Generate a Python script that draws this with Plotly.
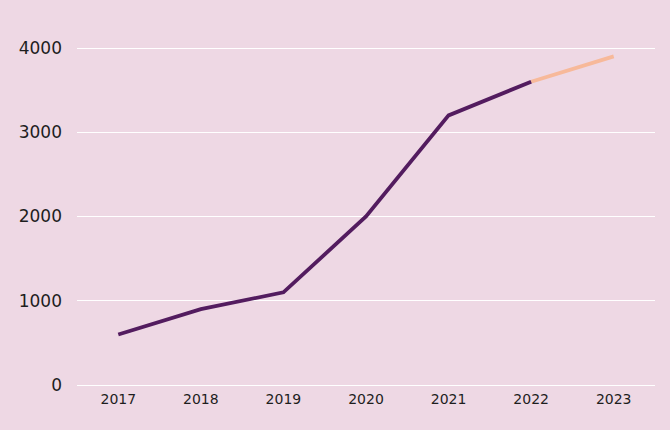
import plotly.graph_objects as go

years = ["2017", "2018", "2019", "2020", "2021", "2022"]
values = [600, 900, 1100, 2000, 3200, 3600]
forecast_years = ["2022", "2023"]
forecast_values = [3600, 3900]
all_years = ["2017", "2018", "2019", "2020", "2021", "2022", "2023"]
y_ticks = [0, 1000, 2000, 3000, 4000]

bg = "#eed8e4"
fig = go.Figure()
fig.add_trace(go.Scatter(x=forecast_years, y=forecast_values, mode="lines",
                         line=dict(color="#f7b99a", width=3.8), hoverinfo="skip"))
fig.add_trace(go.Scatter(x=years, y=values, mode="lines",
                         line=dict(color="#531c5f", width=3.8)))

# y range padded slightly so the 0 and 4000 gridlines are drawn
ypad = 4000 * 2 / 337
fig.update_layout(
    width=670, height=430,
    paper_bgcolor=bg, plot_bgcolor=bg,
    showlegend=False,
    margin=dict(l=77, r=15, t=46, b=43),
    font=dict(family="DejaVu Sans", size=14, color="#1e1e1e"),
    xaxis=dict(type="category", categoryorder="array", categoryarray=all_years,
               range=[-0.5, 6.5], showgrid=False, zeroline=False, showline=False,
               ticks="", tickfont=dict(size=14), ticklabelstandoff=2),
    yaxis=dict(range=[-ypad, 4000 + ypad], tickvals=y_ticks, showgrid=True,
               gridcolor="#ffffff", gridwidth=1.2, zeroline=False, showline=False,
               ticks="", ticklabelstandoff=14, tickfont=dict(size=17)),
)
fig.write_html("out.html", config={"displayModeBar": False},
               post_script="document.body.style.margin='0';document.body.style.overflow='hidden';")
